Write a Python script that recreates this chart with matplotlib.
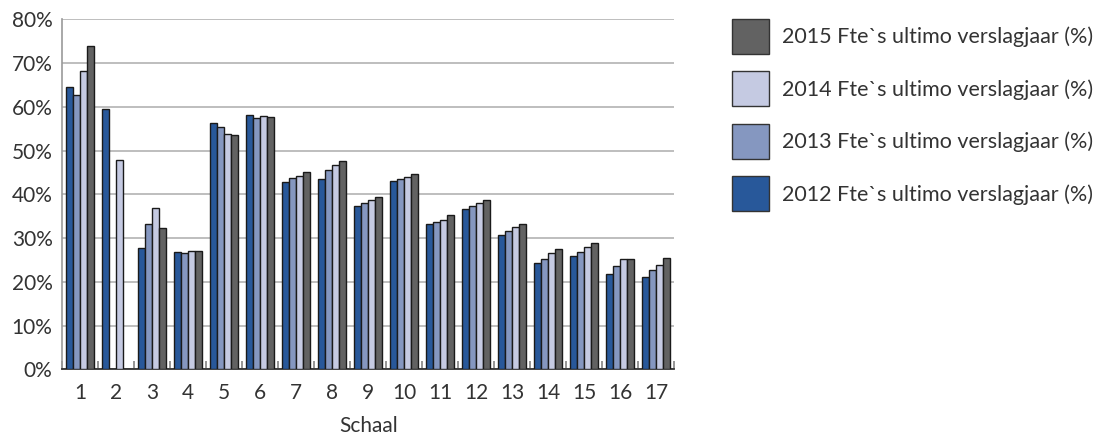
import matplotlib
matplotlib.use("Agg")
import matplotlib.pyplot as plt
import numpy as np
from matplotlib.patches import Patch
from matplotlib.ticker import FixedLocator, PercentFormatter

plt.rcParams['font.family'] = ['Lato', 'DejaVu Sans']

categories = [str(i) for i in range(1, 18)]
series_names = ["2012 Fte`s ultimo verslagjaar (%)",
                "2013 Fte`s ultimo verslagjaar (%)",
                "2014 Fte`s ultimo verslagjaar (%)",
                "2015 Fte`s ultimo verslagjaar (%)"]
v2012 = [64.6, 59.4, 27.7, 26.9, 56.2, 58.1, 42.7, 43.6, 37.4, 43.0, 33.2, 36.6, 30.6, 24.3, 25.9, 21.8, 21.0]
v2013 = [62.6, 0.0, 33.1, 26.5, 55.3, 57.5, 43.7, 45.6, 37.9, 43.5, 33.7, 37.4, 31.6, 25.1, 26.8, 23.5, 22.8]
v2014 = [68.1, 47.9, 36.8, 27.1, 53.7, 57.9, 44.2, 46.8, 38.6, 43.9, 34.2, 38.0, 32.5, 26.5, 27.9, 25.3, 23.8]
v2015 = [73.9, 0.0, 32.3, 27.1, 53.5, 57.7, 45.0, 47.7, 39.3, 44.6, 35.2, 38.8, 33.3, 27.4, 28.9, 25.1, 25.5]
colors = ["#28589a", "#8597c0", "#c5cae2", "#626262"]

fig = plt.figure(figsize=(11, 4.36), dpi=100)
ax = fig.add_axes([62.3/1100, 1-369.3/436, 612/1100, 350/436])

x = np.arange(len(categories))
w = 0.196
for i, (vals, c) in enumerate(zip([v2012, v2013, v2014, v2015], colors)):
    ax.bar(x + (i - 1.5) * w, vals, width=w, color=c, edgecolor="#1a1a1a",
           linewidth=1.0, zorder=3)

ax.set_xlim(-0.5, len(categories) - 0.5)
ax.set_ylim(0, 80)
ax.yaxis.set_major_locator(FixedLocator(np.arange(0, 81, 10)))
ax.yaxis.set_major_formatter(PercentFormatter(decimals=0))
ax.grid(axis='y', color="#b3b3b3", linewidth=1.2, zorder=0)
ax.set_xticks(x)
ax.set_xticklabels(categories)
ax.set_xticks(np.arange(-0.5, len(categories), 1), minor=True)
ax.tick_params(axis='x', which='major', length=0, pad=10, labelsize=15, labelcolor="#333333")
ax.tick_params(axis='x', which='minor', direction='in', length=6, width=1.3, color="#8c8c8c")
ax.tick_params(axis='y', length=0, pad=7, labelsize=15, labelcolor="#333333")
for s in ['top', 'right']:
    ax.spines[s].set_visible(False)
ax.spines['left'].set_color("#999999")
ax.spines['left'].set_linewidth(1.2)
ax.spines['bottom'].set_color("#333333")
ax.spines['bottom'].set_linewidth(1.3)
ax.set_xlabel("Schaal", fontsize=15, color="#333333", labelpad=9)

handles = [Patch(facecolor=c, edgecolor="#333333", linewidth=1.0, label=n)
           for c, n in zip(colors, series_names)][::-1]
fig.legend(handles=handles, loc='upper left', bbox_to_anchor=(732/1100, 1-19/436),
           frameon=False, fontsize=15.5, handlelength=1.72, handleheight=2.125,
           labelspacing=0.81, handletextpad=0.6, labelcolor="#333333",
           borderpad=0, borderaxespad=0)

fig.savefig("out.png", dpi=100)
